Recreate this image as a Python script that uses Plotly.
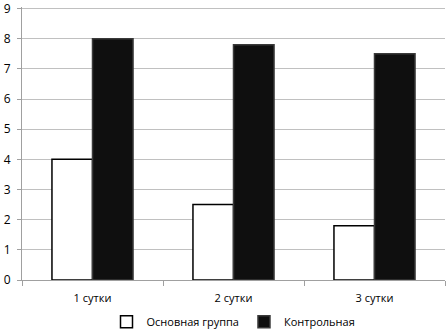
import plotly.graph_objects as go

categories = ["1 сутки", "2 сутки", "3 сутки"]
main_group = [4.0, 2.5, 1.8]
control_group = [8.0, 7.8, 7.5]
y_ticks = list(range(0, 10))

fig = go.Figure()
fig.add_trace(go.Bar(
    x=categories, y=main_group, name="Основная группа",
    marker=dict(color="#ffffff", line=dict(color="#000000", width=1.5)),
))
fig.add_trace(go.Bar(
    x=categories, y=control_group, name="Контрольная",
    marker=dict(color="#0f0f0f", line=dict(color="#3a3a3a", width=1.5)),
))

font_family = "Open Sans, Liberation Sans, sans-serif"
fig.update_layout(
    width=448, height=332,
    margin=dict(l=22, r=3, t=7, b=52, autoexpand=False),
    paper_bgcolor="#ffffff", plot_bgcolor="#ffffff",
    barmode="group", bargap=0.425, bargroupgap=0,
    font=dict(family=font_family, size=11, color="#000000"),
    showlegend=True,
    legend=dict(orientation="h", x=0.5, xanchor="center", y=-0.1, yanchor="top",
                font=dict(size=11), itemwidth=30,
                traceorder="normal", tracegroupgap=0, bgcolor="rgba(0,0,0,0)"),
    xaxis=dict(showgrid=False, showline=True, linecolor="#a0a0a0", linewidth=1,
               ticks="outside", tickson="boundaries", ticklen=5, tickcolor="#a0a0a0",
               tickfont=dict(size=11), ticklabelstandoff=8),
    yaxis=dict(range=[0, 9.05], tickvals=y_ticks, showgrid=True, gridcolor="#c0c0c0",
               gridwidth=1.2, showline=True, linecolor="#a0a0a0", linewidth=1,
               ticks="outside", ticklen=4, tickcolor="#a0a0a0", zeroline=False,
               tickfont=dict(size=12), ticklabelstandoff=4,
               ticklabeloverflow="allow"),
)

fig.write_html("out.html")
